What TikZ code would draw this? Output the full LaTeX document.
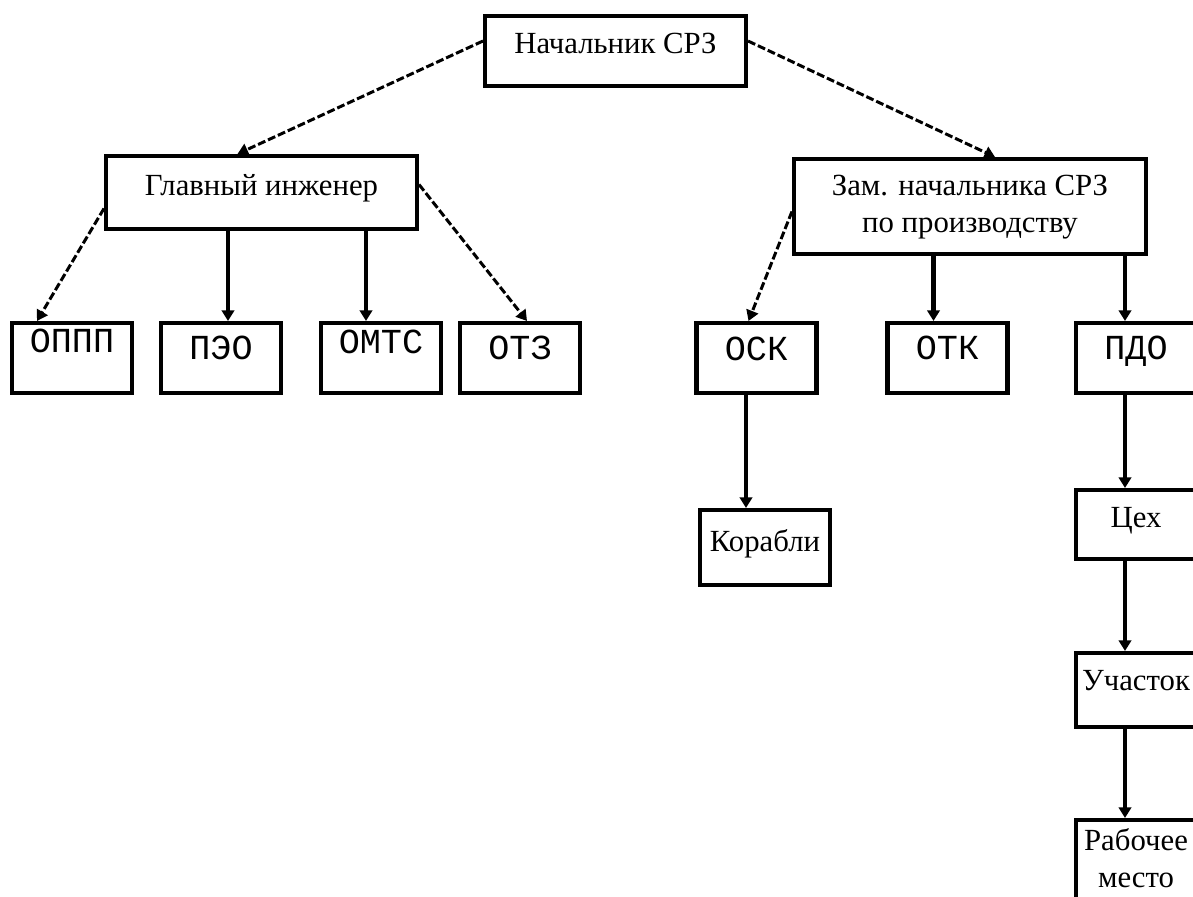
\documentclass[tikz,border=0pt]{standalone}
\usepackage{fontspec}
\setmainfont{Liberation Serif}
\newfontfamily\abbrfont{Liberation Mono}
\usetikzlibrary{arrows.meta}
\newlength{\pxu}
\setlength{\pxu}{0.02cm}
\begin{document}
\begin{tikzpicture}[x=0.02cm, y=-0.02cm,
    box/.style={draw, line width=2.3pt, inner xsep=0pt, inner ysep=0pt, align=center,
      font=\fontsize{17.5}{21}\selectfont},
    abbr/.style={box, font=\abbrfont\fontsize{20}{24}\selectfont},
    small/.style={minimum width=120\pxu},
    diag/.style={line width=1.7pt, dash pattern=on 4.5pt off 1.7pt}]
  \useasboundingbox (0,0) rectangle (1193,896);
  \clip (0,0) rectangle (1193,896);
  \draw
    (615.5,51) node[box, minimum width=261\pxu, text height=37\pxu, text depth=33\pxu] (boss) {Начальник СРЗ}
    (261.5,192.5) node[box, minimum width=311\pxu, text height=39\pxu, text depth=34\pxu] (chief) {Главный инженер}
    (970,206.5) node[box, minimum width=352\pxu, text height=73\pxu, text depth=22\pxu] (deputy) {Зам. начальника СРЗ\\по производству}
    (72,358) node[abbr, small, text height=29\pxu, text depth=41\pxu] (oppp) {ОППП}
    (221,358) node[abbr, small, text height=36\pxu, text depth=34\pxu] (peo) {ПЭО}
    (381,358) node[abbr, small, text height=30\pxu, text depth=40\pxu] (omts) {ОМТС}
    (520,358) node[abbr, small, text height=36\pxu, text depth=34\pxu] (otz) {ОТЗ}
    (756.5,358) node[abbr, small, text height=37\pxu, text depth=33\pxu] (osk) {ОСК}
    (947.5,358) node[abbr, small, text height=36\pxu, text depth=34\pxu] (otk) {ОТК}
    (1136,358) node[abbr, small, text height=36\pxu, text depth=34\pxu] (pdo) {ПДО}
    (765,547.5) node[box, minimum width=130\pxu, text height=41\pxu, text depth=34\pxu] (ships) {Корабли}
    (1136,524.5) node[box, small, text height=37\pxu, text depth=32\pxu] (shop) {Цех}
    (1136,690) node[box, small, text height=37\pxu, text depth=37\pxu] (sect) {Участок}
    (1136,875) node[box, small, text height=67\pxu, text depth=43\pxu] (place) {Рабочее\\место};
  \begin{scope}[-{Triangle[width=7pt,length=6pt]}, line width=2.3pt]
    \draw[diag] ([yshift=10\pxu]boss.west) -- ([xshift=-24\pxu]chief.north);
    \draw[diag] ([yshift=10\pxu]boss.east) -- ([xshift=25\pxu]deputy.north);
    \draw[diag] ([yshift=-16\pxu]chief.west) -- ([xshift=-35\pxu]oppp.north);
    \draw ([xshift=7\pxu]peo.north |- chief.south) -- ([xshift=7\pxu]peo.north);
    \draw ([xshift=-15\pxu]omts.north |- chief.south) -- ([xshift=-15\pxu]omts.north);
    \draw[diag] ([yshift=8\pxu]chief.east) -- ([xshift=7\pxu]otz.north);
    \draw[diag] ([yshift=-5\pxu]deputy.west) -- ([xshift=-8\pxu]osk.north);
    \draw ([xshift=-14\pxu]otk.north |- deputy.south) -- ([xshift=-14\pxu]otk.north);
    \draw ([xshift=-11\pxu]pdo.north |- deputy.south) -- ([xshift=-11\pxu]pdo.north);
    \draw ([xshift=-19\pxu]ships.north |- osk.south) -- ([xshift=-19\pxu]ships.north);
    \draw ([xshift=-11\pxu]shop.north |- pdo.south) -- ([xshift=-11\pxu]shop.north);
    \draw ([xshift=-11\pxu]sect.north |- shop.south) -- ([xshift=-11\pxu]sect.north);
    \draw ([xshift=-11\pxu]place.north |- sect.south) -- ([xshift=-11\pxu]place.north);
  \end{scope}
\end{tikzpicture}
\end{document}
